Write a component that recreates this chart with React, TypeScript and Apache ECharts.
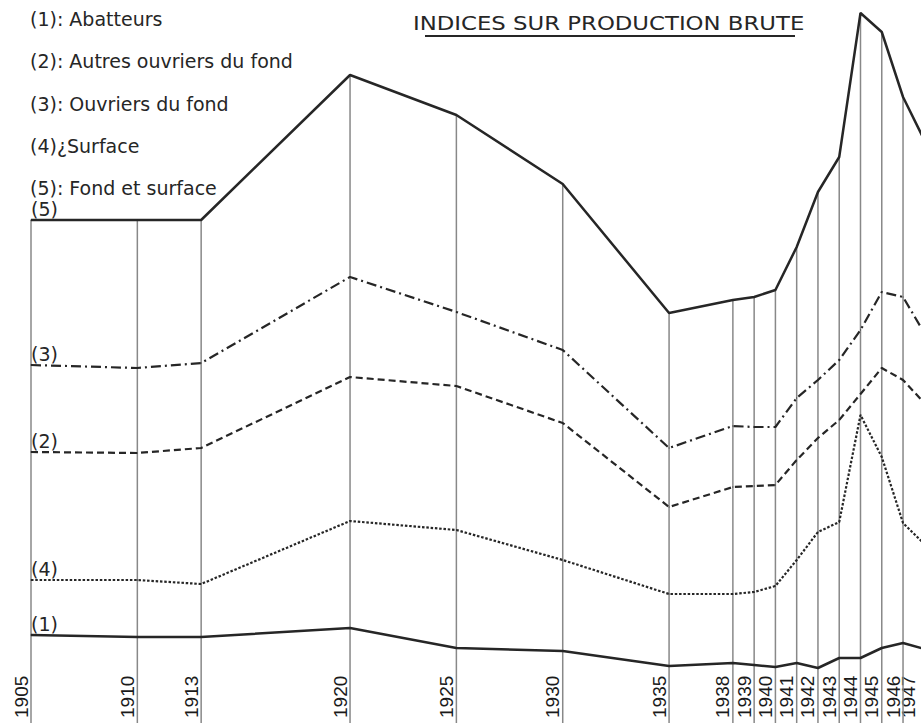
import React, { useEffect, useRef } from 'react';
import * as echarts from 'echarts';

// Years (x positions are linear in time)
const years = [1905, 1910, 1913, 1920, 1925, 1930, 1935, 1938, 1939, 1940, 1941, 1942, 1943, 1944, 1945, 1946, 1947];
// Tick labels: the last one sits on the picture's right edge, so it gets its own axis (nudged inward)
const innerYearLabels = years.slice(0, -1);
const edgeYearLabels = years.slice(-1);

// Index values (arbitrary vertical units)
const fondEtSurface = [503, 503, 503, 648, 608, 539, 410, 423, 426, 433, 476, 531, 566, 710, 691, 626, 583]; // (5)
const ouvriersFond = [358, 355, 360, 446, 411, 373, 275, 297, 296, 296, 325, 343, 363, 393, 431, 426, 390]; // (3)
const autresOuvriers = [271, 270, 275, 346, 337, 300, 216, 236, 237, 238, 263, 285, 303, 329, 355, 343, 320]; // (2)
const surface = [143, 143, 139, 202, 193, 163, 129, 129, 131, 137, 163, 191, 201, 308, 266, 200, 179]; // (4)
const abatteurs = [88, 86, 86, 95, 75, 72, 57, 60, 58, 56, 60, 55, 65, 65, 75, 80, 74]; // (1)

const legendLines = [
  '(1): Abatteurs',
  '(2): Autres ouvriers du fond',
  '(3): Ouvriers du fond',
  '(4)¿Surface',
  '(5): Fond et surface',
];
const titleText = 'INDICES SUR PRODUCTION BRUTE';

const ink = '#262626';
const handFont = "'DejaVu Sans', sans-serif";
const yearFont = "'Liberation Sans Narrow', 'Liberation Sans', Arial, sans-serif";

export default function App() {
  const ref = useRef<HTMLDivElement>(null);

  useEffect(() => {
    if (!ref.current) return;
    const chart = echarts.init(ref.current, null, { renderer: 'svg' });

    const makeLine = (name: string, arr: number[], tag: string, type: any, width: number) => ({
      type: 'line',
      name,
      silent: true,
      z: 3,
      symbol: 'circle',
      symbolSize: 1,
      showSymbol: true,
      lineStyle: { color: ink, width, type },
      itemStyle: { color: ink },
      label: {
        show: false,
        position: 'top',
        align: 'left',
        distance: 1,
        offset: [0, 0],
        fontFamily: handFont,
        fontSize: 19,
        lineHeight: 19,
        color: ink,
      },
      data: years.map((y, i) =>
        i === 0
          ? { value: [y, arr[i]], label: { show: true, formatter: tag } }
          : [y, arr[i]]
      ),
    });

    const yearAxis = (values: number[], padBottom: number) => ({
      type: 'value',
      gridIndex: 0,
      position: 'bottom',
      min: 1905,
      max: 1947,
      axisLine: { show: false },
      axisTick: { show: false },
      splitLine: { show: false },
      axisLabel: {
        customValues: values,
        inside: true,
        rotate: 90,
        margin: 5,
        hideOverlap: false,
        verticalAlign: 'bottom',
        lineHeight: 20,
        padding: [0, 0, padBottom, 0],
        fontFamily: yearFont,
        fontSize: 19,
        color: '#1a1a1a',
        formatter: (v: number) => String(v),
      },
    });

    chart.setOption({
      animation: false,
      backgroundColor: '#ffffff',
      grid: { left: 31, right: 5.7, top: 0, bottom: 0, containLabel: false },
      xAxis: [yearAxis(innerYearLabels, 0), yearAxis(edgeYearLabels, 6)],
      yAxis: { type: 'value', min: 0, max: 723, show: false },
      series: [
        {
          type: 'bar',
          name: 'verticales',
          silent: true,
          z: 1,
          barWidth: 1.5,
          itemStyle: { color: '#888888' },
          data: years.map((y, i) => [y, fondEtSurface[i]]),
        },
        makeLine('Fond et surface', fondEtSurface, '(5)', 'solid', 2.5),
        makeLine('Ouvriers du fond', ouvriersFond, '(3)', [10, 4, 2, 4], 2.2),
        makeLine('Autres ouvriers du fond', autresOuvriers, '(2)', [7, 4], 2.2),
        makeLine('Surface', surface, '(4)', [2.5, 1.8], 2.2),
        makeLine('Abatteurs', abatteurs, '(1)', 'solid', 2.5),
      ],
      graphic: [
        ...legendLines.map((t, i) => ({
          type: 'text',
          x: 30,
          y: 19 + i * 42.3,
          silent: true,
          style: {
            text: t,
            fontFamily: handFont,
            fontSize: 19,
            fill: ink,
            verticalAlign: 'middle',
          },
        })),
        {
          type: 'text',
          x: 413,
          y: 23,
          scaleX: 1.14,
          silent: true,
          style: {
            text: titleText,
            fontFamily: "'DejaVu Sans', sans-serif",
            fontSize: 20,
            fill: ink,
            verticalAlign: 'middle',
          },
        },
        {
          type: 'line',
          silent: true,
          shape: { x1: 425, y1: 36, x2: 795, y2: 36 },
          style: { stroke: ink, lineWidth: 2 },
        },
      ],
    });

    return () => chart.dispose();
  }, []);

  return (
    <div style={{ position: 'absolute', left: 0, top: 0, width: 921, height: 723, overflow: 'hidden' }}>
      <div ref={ref} style={{ width: 930, height: 723 }} />
    </div>
  );
}
